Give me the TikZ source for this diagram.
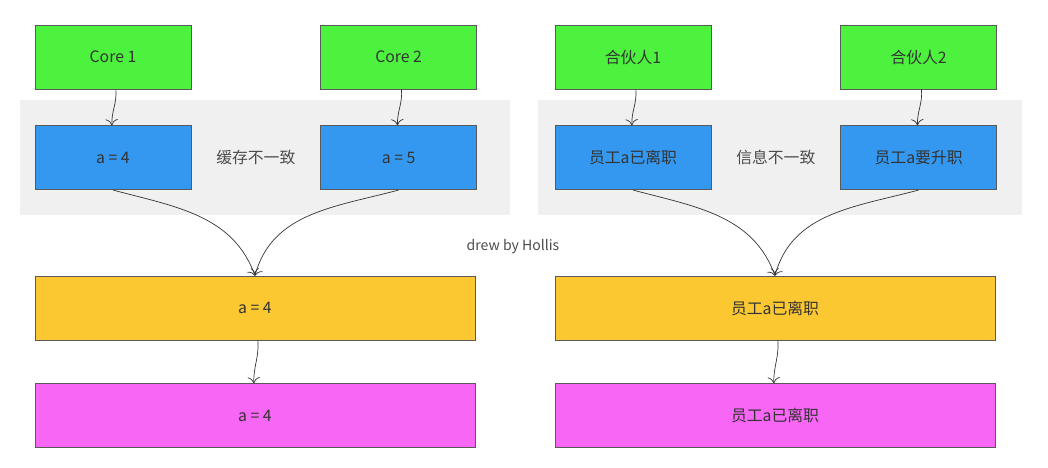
\documentclass[tikz,border=0pt]{standalone}
\usepackage{fontspec}
\setsansfont{Noto Sans CJK SC}
\usetikzlibrary{arrows.meta, positioning, calc, fit, backgrounds}
\definecolor{coregreen}{HTML}{4DF23E}
\definecolor{cacheblue}{HTML}{3498F0}
\definecolor{memorange}{HTML}{FBC832}
\definecolor{diskpink}{HTML}{F866F6}
\definecolor{zonegray}{HTML}{F0F0F0}
\tikzset{
    base/.style={text centered, font=\sffamily\small, text=black!80, draw=black!65, thin},
    core/.style={base, rectangle, minimum width=3.12cm, minimum height=1.28cm, fill=coregreen},
    cache/.style={base, rectangle, minimum width=3.12cm, minimum height=1.28cm, fill=cacheblue},
    mem/.style={base, rectangle, minimum width=8.8cm, minimum height=1.28cm, fill=memorange},
    disk/.style={base, rectangle, minimum width=8.8cm, minimum height=1.28cm, fill=diskpink},
    note/.style={font=\sffamily\small, text=black!70},
    arrow/.style={thin, ->, >={To[length=3.5pt, width=7pt]}, color=black!80},
    zone/.style={rectangle, draw=none, fill=zonegray, inner ysep=0.5cm}
}

\begin{document}
\begin{tikzpicture}[x=0.02cm, y=-0.02cm]
        \useasboundingbox (0,0) rectangle (1048,467);

        % Left: CPU cores
        \node (core1) [core] at (113,57) {Core 1};
        \node (core2) [core, right=2.58cm of core1] {Core 2};
        \node (cache1) [cache, below=0.72cm of core1] {a = 4};
        \node (cache2) [cache, below=0.72cm of core2] {a = 5};
        \node (cachenote) [note] at ($(cache1)!0.5!(cache2)$) {缓存不一致};
        \node (mem1) [mem] at (255,308) {a = 4};
        \node (disk1) [disk, below=0.86cm of mem1] {a = 4};

        \coordinate (zone1end) at ($(cache2.east)+(18,0)$);
        \begin{scope}[on background layer]
            \node [zone, inner xsep=0.3cm, fit=(cache1) (cache2) (zone1end)] (zone1) {};
        \end{scope}

        \draw [arrow] (core1) to[out=-85, in=92] (cache1);
        \draw [arrow] (core2) to[out=-85, in=92] (cache2);
        \draw [arrow] (cache1.south) to[out=-15, in=110] (mem1.north);
        \draw [arrow] (cache2.south) to[out=195, in=75] (mem1.north);
        \draw [arrow] (mem1) to[out=-85, in=92] (disk1);

        % Right: partners
        \node (boss1) [core] at (633,57) {合伙人1};
        \node (boss2) [core, right=2.58cm of boss1] {合伙人2};
        \node (info1) [cache, below=0.72cm of boss1] {员工a已离职};
        \node (info2) [cache, below=0.72cm of boss2] {员工a要升职};
        \node (infonote) [note] at ($(info1)!0.5!(info2)$) {信息不一致};
        \node (mem2) [mem] at (775,308) {员工a已离职};
        \node (disk2) [disk, below=0.86cm of mem2] {员工a已离职};

        \coordinate (zone2end) at ($(info2.east)+(8,0)$);
        \begin{scope}[on background layer]
            \node [zone, inner xsep=0.34cm, fit=(info1) (info2) (zone2end)] (zone2) {};
        \end{scope}

        \draw [arrow] (boss1) to[out=-85, in=92] (info1);
        \draw [arrow] (boss2) to[out=-85, in=92] (info2);
        \draw [arrow] (info1.south) to[out=-15, in=110] (mem2.north);
        \draw [arrow] (info2.south) to[out=195, in=75] (mem2.north);
        \draw [arrow] (mem2) to[out=-85, in=92] (disk2);

        \node (sign) [note, font=\sffamily\footnotesize\itshape] at (513,247) {drew by Hollis};
    \end{tikzpicture}
\end{document}
